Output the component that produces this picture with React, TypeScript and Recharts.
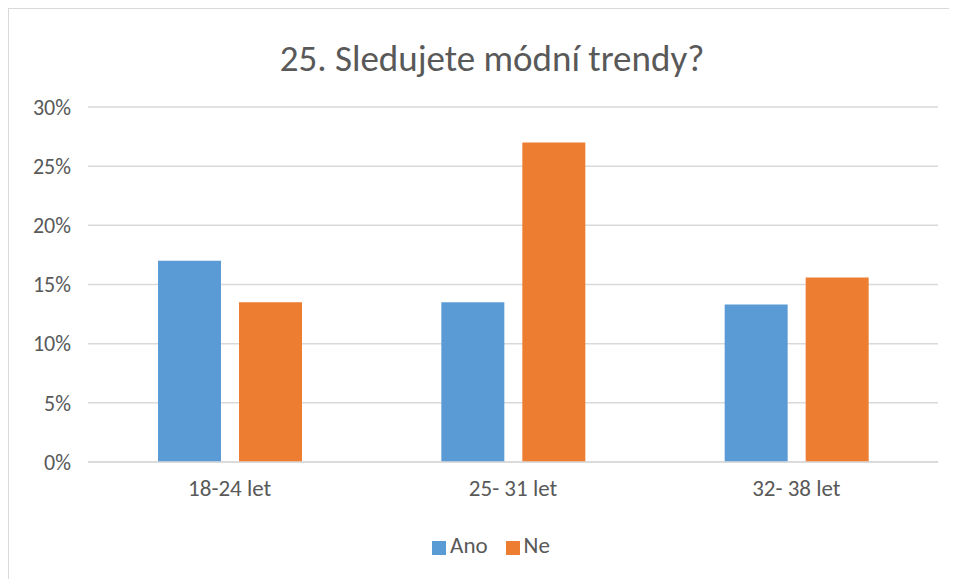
import React from 'react';
import { BarChart, Bar, XAxis, YAxis, CartesianGrid, Legend } from 'recharts';

const categories = ['18-24 let', '25- 31 let', '32- 38 let'];
const ano = [17.0, 13.5, 13.3];
const ne = [13.5, 27.0, 15.6];
const yTicks = [0, 5, 10, 15, 20, 25, 30];

const data = categories.map((c, i) => ({ name: c, Ano: ano[i], Ne: ne[i] }));

const font = 'Carlito, Calibri, "Open Sans", sans-serif';
const grey = '#595959';

const App: React.FC = () => {
    return (
        <div style={{ position: 'relative', width: 949, height: 571, borderLeft: '1px solid #d9d9d9', borderTop: '1px solid #d9d9d9', fontFamily: font }}>
            <div style={{ position: 'absolute', left: 0, top: 28, width: 966, textAlign: 'center', fontSize: 37, color: grey, lineHeight: '44px' }}>
                25. Sledujete módní trendy?
            </div>
            <BarChart
                width={949}
                height={570}
                data={data}
                margin={{ top: 98, right: 20, left: 0, bottom: 57 }}
                barSize={63}
                barGap={18}
            >
                <CartesianGrid stroke="#d9d9d9" strokeWidth={1.5} vertical={false} />
                <XAxis
                    dataKey="name"
                    tickLine={false}
                    axisLine={{ stroke: '#d9d9d9', strokeWidth: 1.5 }}
                    tick={{ fontSize: 23, fill: grey, fontFamily: font }}
                    tickMargin={12}
                    height={60}
                />
                <YAxis
                    width={79}
                    domain={[0, 30]}
                    ticks={yTicks}
                    tickFormatter={(v: number) => `${v}%`}
                    tickLine={false}
                    axisLine={false}
                    tick={{ fontSize: 22, fill: grey, fontFamily: font }}
                    tickMargin={11}
                />
                <Legend
                    verticalAlign="middle"
                    iconType="square"
                    iconSize={14}
                    wrapperStyle={{ left: 8, width: 966, top: 522, fontSize: 23, color: grey }}
                    formatter={(v: string) => <span style={{ color: grey, marginRight: 8 }}>{v}</span>}
                />
                <Bar dataKey="Ano" fill="#5b9bd5" isAnimationActive={false} />
                <Bar dataKey="Ne" fill="#ed7d31" isAnimationActive={false} />
            </BarChart>
        </div>
    );
};

export default App;
